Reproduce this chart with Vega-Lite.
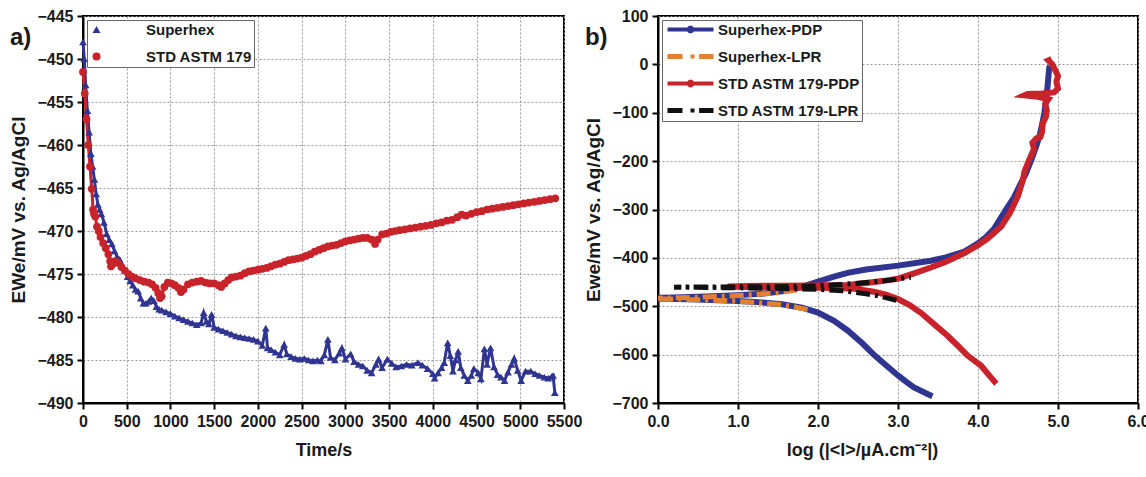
{
"$schema": "https://vega.github.io/schema/vega-lite/v6.json",
"background": "white",
"padding": {"left": 8, "top": 7, "right": 5, "bottom": 3},
"spacing": 0,
"resolve": {"scale": {"color": "independent", "shape": "independent"}, "legend": {"color": "independent"}},
"config": {
  "font": "Liberation Sans",
  "view": {"stroke": "black", "strokeWidth": 2},
  "axis": {"labelFont": "Liberation Sans", "labelFontWeight": "bold", "labelFontSize": 16, "labelColor": "#1a1a1a", "titleFont": "Liberation Sans", "titleFontWeight": "bold", "titleFontSize": 18, "titleColor": "#1a1a1a", "domainColor": "black", "domainWidth": 2, "tickColor": "black", "tickWidth": 2, "tickSize": 6, "labelPadding": 4, "gridColor": "#999999", "gridDash": [2, 2], "gridWidth": 1, "labelFlush": false, "labelOverlap": false},
  "legend": {"labelFont": "Liberation Sans", "labelFontWeight": "bold", "labelColor": "#1a1a1a", "labelLimit": 400}
},
"datasets": {
  "a": [
    {"s":"Superhex","t":0,"E":-448},{"s":"Superhex","t":15,"E":-450},{"s":"Superhex","t":30,"E":-453},{"s":"Superhex","t":50,"E":-456},{"s":"Superhex","t":70,"E":-458.5},{"s":"Superhex","t":90,"E":-461},{"s":"Superhex","t":110,"E":-462.5},{"s":"Superhex","t":130,"E":-464},{"s":"Superhex","t":150,"E":-465.7},{"s":"Superhex","t":170,"E":-466.9},{"s":"Superhex","t":190,"E":-467.5},{"s":"Superhex","t":210,"E":-468},{"s":"Superhex","t":240,"E":-469},{"s":"Superhex","t":270,"E":-470.3},{"s":"Superhex","t":300,"E":-471},{"s":"Superhex","t":330,"E":-471.5},{"s":"Superhex","t":360,"E":-472.3},{"s":"Superhex","t":390,"E":-473},{"s":"Superhex","t":420,"E":-473.3},{"s":"Superhex","t":450,"E":-474},{"s":"Superhex","t":480,"E":-474.6},{"s":"Superhex","t":510,"E":-475.3},{"s":"Superhex","t":540,"E":-475.8},{"s":"Superhex","t":570,"E":-476.3},{"s":"Superhex","t":600,"E":-476.8},{"s":"Superhex","t":630,"E":-477},{"s":"Superhex","t":660,"E":-477.8},{"s":"Superhex","t":690,"E":-478.4},{"s":"Superhex","t":720,"E":-478.4},{"s":"Superhex","t":750,"E":-478.2},{"s":"Superhex","t":780,"E":-477.8},{"s":"Superhex","t":810,"E":-478.1},{"s":"Superhex","t":840,"E":-478.8},{"s":"Superhex","t":870,"E":-479.1},{"s":"Superhex","t":900,"E":-479.2},{"s":"Superhex","t":950,"E":-479.4},{"s":"Superhex","t":1000,"E":-479.6},{"s":"Superhex","t":1050,"E":-479.9},{"s":"Superhex","t":1100,"E":-480.1},{"s":"Superhex","t":1150,"E":-480.3},{"s":"Superhex","t":1200,"E":-480.5},{"s":"Superhex","t":1250,"E":-480.7},{"s":"Superhex","t":1300,"E":-480.9},{"s":"Superhex","t":1350,"E":-480.7},{"s":"Superhex","t":1380,"E":-479.5},{"s":"Superhex","t":1410,"E":-480.5},{"s":"Superhex","t":1440,"E":-480.8},{"s":"Superhex","t":1470,"E":-479.7},{"s":"Superhex","t":1500,"E":-481.2},{"s":"Superhex","t":1550,"E":-481.4},{"s":"Superhex","t":1600,"E":-481.6},{"s":"Superhex","t":1650,"E":-481.8},{"s":"Superhex","t":1700,"E":-482},{"s":"Superhex","t":1750,"E":-482.2},{"s":"Superhex","t":1800,"E":-482.3},{"s":"Superhex","t":1850,"E":-482.4},{"s":"Superhex","t":1900,"E":-482.5},{"s":"Superhex","t":1950,"E":-482.6},{"s":"Superhex","t":2000,"E":-482.8},{"s":"Superhex","t":2050,"E":-483.3},{"s":"Superhex","t":2090,"E":-481.3},{"s":"Superhex","t":2110,"E":-483.6},{"s":"Superhex","t":2150,"E":-483.8},{"s":"Superhex","t":2200,"E":-484.1},{"s":"Superhex","t":2250,"E":-484.4},{"s":"Superhex","t":2300,"E":-483.2},{"s":"Superhex","t":2330,"E":-484.3},{"s":"Superhex","t":2380,"E":-484.6},{"s":"Superhex","t":2430,"E":-484.8},{"s":"Superhex","t":2480,"E":-484.9},{"s":"Superhex","t":2530,"E":-484.8},{"s":"Superhex","t":2580,"E":-485},{"s":"Superhex","t":2630,"E":-485.1},{"s":"Superhex","t":2680,"E":-485},{"s":"Superhex","t":2720,"E":-485.1},{"s":"Superhex","t":2760,"E":-484.4},{"s":"Superhex","t":2800,"E":-482.6},{"s":"Superhex","t":2830,"E":-484.7},{"s":"Superhex","t":2880,"E":-485},{"s":"Superhex","t":2930,"E":-484.2},{"s":"Superhex","t":2960,"E":-483.6},{"s":"Superhex","t":3000,"E":-484.9},{"s":"Superhex","t":3060,"E":-484.3},{"s":"Superhex","t":3100,"E":-485.2},{"s":"Superhex","t":3150,"E":-485.5},{"s":"Superhex","t":3200,"E":-485.7},{"s":"Superhex","t":3250,"E":-486.2},{"s":"Superhex","t":3300,"E":-486.5},{"s":"Superhex","t":3350,"E":-485.5},{"s":"Superhex","t":3380,"E":-484.9},{"s":"Superhex","t":3420,"E":-485.9},{"s":"Superhex","t":3480,"E":-484.9},{"s":"Superhex","t":3530,"E":-485.4},{"s":"Superhex","t":3580,"E":-485.8},{"s":"Superhex","t":3640,"E":-485.7},{"s":"Superhex","t":3700,"E":-485.5},{"s":"Superhex","t":3760,"E":-485.6},{"s":"Superhex","t":3830,"E":-485.3},{"s":"Superhex","t":3880,"E":-485.6},{"s":"Superhex","t":3940,"E":-486},{"s":"Superhex","t":4000,"E":-486.6},{"s":"Superhex","t":4020,"E":-487.1},{"s":"Superhex","t":4060,"E":-486.5},{"s":"Superhex","t":4100,"E":-485.9},{"s":"Superhex","t":4130,"E":-485.3},{"s":"Superhex","t":4170,"E":-483},{"s":"Superhex","t":4200,"E":-484.5},{"s":"Superhex","t":4230,"E":-486.3},{"s":"Superhex","t":4260,"E":-485},{"s":"Superhex","t":4290,"E":-484},{"s":"Superhex","t":4320,"E":-485.9},{"s":"Superhex","t":4360,"E":-486.8},{"s":"Superhex","t":4400,"E":-487.4},{"s":"Superhex","t":4440,"E":-486.8},{"s":"Superhex","t":4470,"E":-486},{"s":"Superhex","t":4520,"E":-486.5},{"s":"Superhex","t":4550,"E":-487.2},{"s":"Superhex","t":4590,"E":-483.7},{"s":"Superhex","t":4620,"E":-485.5},{"s":"Superhex","t":4660,"E":-483.6},{"s":"Superhex","t":4700,"E":-485.8},{"s":"Superhex","t":4740,"E":-486.7},{"s":"Superhex","t":4780,"E":-487},{"s":"Superhex","t":4820,"E":-487.4},{"s":"Superhex","t":4860,"E":-486.4},{"s":"Superhex","t":4900,"E":-485.5},{"s":"Superhex","t":4930,"E":-484.8},{"s":"Superhex","t":4970,"E":-486.2},{"s":"Superhex","t":5010,"E":-487.4},{"s":"Superhex","t":5060,"E":-486.3},{"s":"Superhex","t":5120,"E":-486.3},{"s":"Superhex","t":5170,"E":-486.6},{"s":"Superhex","t":5220,"E":-486.8},{"s":"Superhex","t":5275,"E":-487},{"s":"Superhex","t":5320,"E":-487.1},{"s":"Superhex","t":5360,"E":-486.9},{"s":"Superhex","t":5375,"E":-486.8},{"s":"Superhex","t":5395,"E":-488.8},
    {"s":"STD ASTM 179","t":0,"E":-451.5},{"s":"STD ASTM 179","t":20,"E":-454},{"s":"STD ASTM 179","t":40,"E":-457},{"s":"STD ASTM 179","t":60,"E":-460},{"s":"STD ASTM 179","t":80,"E":-462.5},{"s":"STD ASTM 179","t":100,"E":-465.1},{"s":"STD ASTM 179","t":115,"E":-467.5},{"s":"STD ASTM 179","t":125,"E":-468},{"s":"STD ASTM 179","t":140,"E":-468.3},{"s":"STD ASTM 179","t":160,"E":-469.5},{"s":"STD ASTM 179","t":180,"E":-470},{"s":"STD ASTM 179","t":200,"E":-470.7},{"s":"STD ASTM 179","t":230,"E":-471.4},{"s":"STD ASTM 179","t":260,"E":-472},{"s":"STD ASTM 179","t":290,"E":-472.7},{"s":"STD ASTM 179","t":310,"E":-473.5},{"s":"STD ASTM 179","t":320,"E":-474.1},{"s":"STD ASTM 179","t":340,"E":-473.8},{"s":"STD ASTM 179","t":370,"E":-473.5},{"s":"STD ASTM 179","t":400,"E":-473.7},{"s":"STD ASTM 179","t":440,"E":-474.2},{"s":"STD ASTM 179","t":480,"E":-474.6},{"s":"STD ASTM 179","t":520,"E":-475},{"s":"STD ASTM 179","t":560,"E":-475.3},{"s":"STD ASTM 179","t":600,"E":-475.5},{"s":"STD ASTM 179","t":650,"E":-475.7},{"s":"STD ASTM 179","t":700,"E":-475.9},{"s":"STD ASTM 179","t":750,"E":-476},{"s":"STD ASTM 179","t":790,"E":-476.2},{"s":"STD ASTM 179","t":830,"E":-476.6},{"s":"STD ASTM 179","t":860,"E":-477.2},{"s":"STD ASTM 179","t":880,"E":-477.8},{"s":"STD ASTM 179","t":900,"E":-477.6},{"s":"STD ASTM 179","t":930,"E":-476.5},{"s":"STD ASTM 179","t":970,"E":-476},{"s":"STD ASTM 179","t":1010,"E":-476.1},{"s":"STD ASTM 179","t":1050,"E":-476.3},{"s":"STD ASTM 179","t":1090,"E":-476.6},{"s":"STD ASTM 179","t":1120,"E":-477.1},{"s":"STD ASTM 179","t":1150,"E":-476.8},{"s":"STD ASTM 179","t":1200,"E":-476.2},{"s":"STD ASTM 179","t":1250,"E":-476},{"s":"STD ASTM 179","t":1300,"E":-475.9},{"s":"STD ASTM 179","t":1350,"E":-475.8},{"s":"STD ASTM 179","t":1400,"E":-476},{"s":"STD ASTM 179","t":1450,"E":-476.1},{"s":"STD ASTM 179","t":1500,"E":-476.1},{"s":"STD ASTM 179","t":1550,"E":-476.3},{"s":"STD ASTM 179","t":1580,"E":-476.5},{"s":"STD ASTM 179","t":1620,"E":-476.1},{"s":"STD ASTM 179","t":1660,"E":-475.7},{"s":"STD ASTM 179","t":1700,"E":-475.4},{"s":"STD ASTM 179","t":1750,"E":-475.3},{"s":"STD ASTM 179","t":1800,"E":-475.2},{"s":"STD ASTM 179","t":1850,"E":-474.9},{"s":"STD ASTM 179","t":1900,"E":-474.7},{"s":"STD ASTM 179","t":1950,"E":-474.6},{"s":"STD ASTM 179","t":2000,"E":-474.5},{"s":"STD ASTM 179","t":2050,"E":-474.4},{"s":"STD ASTM 179","t":2100,"E":-474.3},{"s":"STD ASTM 179","t":2150,"E":-474.1},{"s":"STD ASTM 179","t":2200,"E":-473.9},{"s":"STD ASTM 179","t":2250,"E":-473.8},{"s":"STD ASTM 179","t":2300,"E":-473.6},{"s":"STD ASTM 179","t":2350,"E":-473.4},{"s":"STD ASTM 179","t":2400,"E":-473.3},{"s":"STD ASTM 179","t":2450,"E":-473.2},{"s":"STD ASTM 179","t":2500,"E":-473.1},{"s":"STD ASTM 179","t":2550,"E":-472.9},{"s":"STD ASTM 179","t":2600,"E":-472.7},{"s":"STD ASTM 179","t":2650,"E":-472.4},{"s":"STD ASTM 179","t":2700,"E":-472.2},{"s":"STD ASTM 179","t":2750,"E":-472},{"s":"STD ASTM 179","t":2800,"E":-471.8},{"s":"STD ASTM 179","t":2850,"E":-471.7},{"s":"STD ASTM 179","t":2900,"E":-471.6},{"s":"STD ASTM 179","t":2950,"E":-471.4},{"s":"STD ASTM 179","t":3000,"E":-471.2},{"s":"STD ASTM 179","t":3050,"E":-471.1},{"s":"STD ASTM 179","t":3100,"E":-471},{"s":"STD ASTM 179","t":3150,"E":-470.9},{"s":"STD ASTM 179","t":3200,"E":-470.8},{"s":"STD ASTM 179","t":3250,"E":-470.8},{"s":"STD ASTM 179","t":3300,"E":-471},{"s":"STD ASTM 179","t":3340,"E":-471.5},{"s":"STD ASTM 179","t":3370,"E":-471},{"s":"STD ASTM 179","t":3420,"E":-470.4},{"s":"STD ASTM 179","t":3470,"E":-470.3},{"s":"STD ASTM 179","t":3520,"E":-470.1},{"s":"STD ASTM 179","t":3570,"E":-470},{"s":"STD ASTM 179","t":3620,"E":-469.9},{"s":"STD ASTM 179","t":3680,"E":-469.8},{"s":"STD ASTM 179","t":3740,"E":-469.7},{"s":"STD ASTM 179","t":3800,"E":-469.6},{"s":"STD ASTM 179","t":3860,"E":-469.5},{"s":"STD ASTM 179","t":3920,"E":-469.4},{"s":"STD ASTM 179","t":3980,"E":-469.3},{"s":"STD ASTM 179","t":4040,"E":-469.1},{"s":"STD ASTM 179","t":4100,"E":-469},{"s":"STD ASTM 179","t":4160,"E":-468.8},{"s":"STD ASTM 179","t":4220,"E":-468.7},{"s":"STD ASTM 179","t":4280,"E":-468.4},{"s":"STD ASTM 179","t":4330,"E":-468.1},{"s":"STD ASTM 179","t":4380,"E":-468.2},{"s":"STD ASTM 179","t":4440,"E":-468},{"s":"STD ASTM 179","t":4500,"E":-467.8},{"s":"STD ASTM 179","t":4560,"E":-467.7},{"s":"STD ASTM 179","t":4620,"E":-467.5},{"s":"STD ASTM 179","t":4680,"E":-467.4},{"s":"STD ASTM 179","t":4740,"E":-467.3},{"s":"STD ASTM 179","t":4800,"E":-467.2},{"s":"STD ASTM 179","t":4860,"E":-467.1},{"s":"STD ASTM 179","t":4920,"E":-467},{"s":"STD ASTM 179","t":4980,"E":-466.9},{"s":"STD ASTM 179","t":5040,"E":-466.8},{"s":"STD ASTM 179","t":5100,"E":-466.7},{"s":"STD ASTM 179","t":5160,"E":-466.6},{"s":"STD ASTM 179","t":5220,"E":-466.5},{"s":"STD ASTM 179","t":5280,"E":-466.4},{"s":"STD ASTM 179","t":5340,"E":-466.3},{"s":"STD ASTM 179","t":5400,"E":-466.2}
  ],
  "b": [
    {"s":"Superhex-PDP","L":3.43,"E":-686},{"s":"Superhex-PDP","L":3.35,"E":-680},{"s":"Superhex-PDP","L":3.2,"E":-668},{"s":"Superhex-PDP","L":3.1,"E":-656},{"s":"Superhex-PDP","L":3.0,"E":-643},{"s":"Superhex-PDP","L":2.85,"E":-622},{"s":"Superhex-PDP","L":2.71,"E":-602},{"s":"Superhex-PDP","L":2.55,"E":-576},{"s":"Superhex-PDP","L":2.37,"E":-550},{"s":"Superhex-PDP","L":2.2,"E":-530},{"s":"Superhex-PDP","L":2.0,"E":-513},{"s":"Superhex-PDP","L":1.8,"E":-503},{"s":"Superhex-PDP","L":1.55,"E":-496},{"s":"Superhex-PDP","L":1.3,"E":-492},{"s":"Superhex-PDP","L":1.0,"E":-489},{"s":"Superhex-PDP","L":0.5,"E":-486},{"s":"Superhex-PDP","L":0.1,"E":-484.5},{"s":"Superhex-PDP","L":-0.3,"E":-483.5},{"s":"Superhex-PDP","L":0.2,"E":-482},{"s":"Superhex-PDP","L":0.6,"E":-480},{"s":"Superhex-PDP","L":1.0,"E":-477},{"s":"Superhex-PDP","L":1.3,"E":-474},{"s":"Superhex-PDP","L":1.55,"E":-469},{"s":"Superhex-PDP","L":1.8,"E":-460},{"s":"Superhex-PDP","L":2.0,"E":-449},{"s":"Superhex-PDP","L":2.2,"E":-439},{"s":"Superhex-PDP","L":2.37,"E":-431},{"s":"Superhex-PDP","L":2.6,"E":-424},{"s":"Superhex-PDP","L":3.0,"E":-416},{"s":"Superhex-PDP","L":3.41,"E":-406},{"s":"Superhex-PDP","L":3.6,"E":-399},{"s":"Superhex-PDP","L":3.83,"E":-387},{"s":"Superhex-PDP","L":4.0,"E":-370},{"s":"Superhex-PDP","L":4.1,"E":-357},{"s":"Superhex-PDP","L":4.2,"E":-340},{"s":"Superhex-PDP","L":4.35,"E":-300},{"s":"Superhex-PDP","L":4.45,"E":-275},{"s":"Superhex-PDP","L":4.52,"E":-251},{"s":"Superhex-PDP","L":4.6,"E":-225},{"s":"Superhex-PDP","L":4.66,"E":-200},{"s":"Superhex-PDP","L":4.72,"E":-173},{"s":"Superhex-PDP","L":4.77,"E":-148},{"s":"Superhex-PDP","L":4.8,"E":-125},{"s":"Superhex-PDP","L":4.83,"E":-100},{"s":"Superhex-PDP","L":4.85,"E":-75},{"s":"Superhex-PDP","L":4.87,"E":-45},{"s":"Superhex-PDP","L":4.88,"E":-25},{"s":"Superhex-PDP","L":4.89,"E":-7},{"s":"Superhex-PDP","L":4.9,"E":-3},
    {"s":"Superhex-LPR","L":1.87,"E":-507},{"s":"Superhex-LPR","L":1.7,"E":-501},{"s":"Superhex-LPR","L":1.5,"E":-496},{"s":"Superhex-LPR","L":1.2,"E":-492},{"s":"Superhex-LPR","L":0.9,"E":-489},{"s":"Superhex-LPR","L":0.5,"E":-486.5},{"s":"Superhex-LPR","L":0.1,"E":-485},{"s":"Superhex-LPR","L":-0.3,"E":-484},{"s":"Superhex-LPR","L":0.1,"E":-483},{"s":"Superhex-LPR","L":0.5,"E":-481.5},{"s":"Superhex-LPR","L":0.9,"E":-479},{"s":"Superhex-LPR","L":1.2,"E":-476},{"s":"Superhex-LPR","L":1.5,"E":-472},{"s":"Superhex-LPR","L":1.7,"E":-467},{"s":"Superhex-LPR","L":1.9,"E":-461},
    {"s":"STD ASTM 179-PDP","L":4.23,"E":-660},{"s":"STD ASTM 179-PDP","L":4.15,"E":-645},{"s":"STD ASTM 179-PDP","L":4.04,"E":-623},{"s":"STD ASTM 179-PDP","L":3.95,"E":-612},{"s":"STD ASTM 179-PDP","L":3.87,"E":-602},{"s":"STD ASTM 179-PDP","L":3.75,"E":-582},{"s":"STD ASTM 179-PDP","L":3.62,"E":-561},{"s":"STD ASTM 179-PDP","L":3.45,"E":-537},{"s":"STD ASTM 179-PDP","L":3.29,"E":-514},{"s":"STD ASTM 179-PDP","L":3.15,"E":-498},{"s":"STD ASTM 179-PDP","L":3.0,"E":-485},{"s":"STD ASTM 179-PDP","L":2.85,"E":-476},{"s":"STD ASTM 179-PDP","L":2.7,"E":-470},{"s":"STD ASTM 179-PDP","L":2.45,"E":-464},{"s":"STD ASTM 179-PDP","L":2.2,"E":-462.5},{"s":"STD ASTM 179-PDP","L":2.0,"E":-462},{"s":"STD ASTM 179-PDP","L":1.5,"E":-461},{"s":"STD ASTM 179-PDP","L":1.1,"E":-460},{"s":"STD ASTM 179-PDP","L":0.87,"E":-459},{"s":"STD ASTM 179-PDP","L":1.1,"E":-458},{"s":"STD ASTM 179-PDP","L":1.5,"E":-457.5},{"s":"STD ASTM 179-PDP","L":2.0,"E":-457},{"s":"STD ASTM 179-PDP","L":2.37,"E":-456},{"s":"STD ASTM 179-PDP","L":2.6,"E":-452},{"s":"STD ASTM 179-PDP","L":2.8,"E":-448},{"s":"STD ASTM 179-PDP","L":3.0,"E":-443},{"s":"STD ASTM 179-PDP","L":3.2,"E":-432},{"s":"STD ASTM 179-PDP","L":3.41,"E":-420},{"s":"STD ASTM 179-PDP","L":3.6,"E":-408},{"s":"STD ASTM 179-PDP","L":3.83,"E":-390},{"s":"STD ASTM 179-PDP","L":4.0,"E":-374},{"s":"STD ASTM 179-PDP","L":4.12,"E":-360},{"s":"STD ASTM 179-PDP","L":4.29,"E":-335},{"s":"STD ASTM 179-PDP","L":4.4,"E":-307},{"s":"STD ASTM 179-PDP","L":4.5,"E":-272},{"s":"STD ASTM 179-PDP","L":4.56,"E":-240},{"s":"STD ASTM 179-PDP","L":4.58,"E":-222},{"s":"STD ASTM 179-PDP","L":4.62,"E":-205},{"s":"STD ASTM 179-PDP","L":4.66,"E":-190},{"s":"STD ASTM 179-PDP","L":4.7,"E":-175},{"s":"STD ASTM 179-PDP","L":4.68,"E":-162},{"s":"STD ASTM 179-PDP","L":4.73,"E":-153},{"s":"STD ASTM 179-PDP","L":4.78,"E":-150},{"s":"STD ASTM 179-PDP","L":4.8,"E":-140},{"s":"STD ASTM 179-PDP","L":4.81,"E":-122},{"s":"STD ASTM 179-PDP","L":4.85,"E":-108},{"s":"STD ASTM 179-PDP","L":4.86,"E":-95},{"s":"STD ASTM 179-PDP","L":4.84,"E":-82},{"s":"STD ASTM 179-PDP","L":4.88,"E":-72},{"s":"STD ASTM 179-PDP","L":4.75,"E":-67},{"s":"STD ASTM 179-PDP","L":4.58,"E":-64},{"s":"STD ASTM 179-PDP","L":4.62,"E":-61},{"s":"STD ASTM 179-PDP","L":4.8,"E":-60},{"s":"STD ASTM 179-PDP","L":4.95,"E":-58},{"s":"STD ASTM 179-PDP","L":5.0,"E":-50},{"s":"STD ASTM 179-PDP","L":4.98,"E":-36},{"s":"STD ASTM 179-PDP","L":5.0,"E":-24},{"s":"STD ASTM 179-PDP","L":4.96,"E":-10},{"s":"STD ASTM 179-PDP","L":4.93,"E":0},{"s":"STD ASTM 179-PDP","L":4.88,"E":8},{"s":"STD ASTM 179-PDP","L":4.92,"E":11},
    {"s":"STD ASTM 179-LPR","L":2.98,"E":-488},{"s":"STD ASTM 179-LPR","L":2.8,"E":-480},{"s":"STD ASTM 179-LPR","L":2.6,"E":-474},{"s":"STD ASTM 179-LPR","L":2.3,"E":-468},{"s":"STD ASTM 179-LPR","L":2.0,"E":-465},{"s":"STD ASTM 179-LPR","L":1.5,"E":-463},{"s":"STD ASTM 179-LPR","L":0.8,"E":-461.5},{"s":"STD ASTM 179-LPR","L":0.2,"E":-460.5},{"s":"STD ASTM 179-LPR","L":0.8,"E":-460},{"s":"STD ASTM 179-LPR","L":1.5,"E":-459.5},{"s":"STD ASTM 179-LPR","L":2.0,"E":-458},{"s":"STD ASTM 179-LPR","L":2.3,"E":-455},{"s":"STD ASTM 179-LPR","L":2.6,"E":-451},{"s":"STD ASTM 179-LPR","L":2.9,"E":-446},{"s":"STD ASTM 179-LPR","L":3.16,"E":-440}
  ]
},
"hconcat": [
  {
    "width": 481, "height": 387,
    "title": {"text": "a)", "anchor": "start", "frame": "bounds", "offset": -42, "fontSize": 24, "fontWeight": "bold", "font": "Liberation Sans", "color": "#1a1a1a"},
    "data": {"name": "a"},
    "layer": [
      {
        "mark": {"type": "line", "strokeWidth": 3},
        "encoding": {
          "x": {"field": "t", "type": "quantitative", "scale": {"domain": [0, 5500], "nice": false},
                "axis": {"title": "Time/s", "format": "d", "values": [0,500,1000,1500,2000,2500,3000,3500,4000,4500,5000,5500], "grid": true, "titlePadding": 12}},
          "y": {"field": "E", "type": "quantitative", "scale": {"domain": [-490, -445], "nice": false},
                "axis": {"title": "EWe/mV vs. Ag/AgCl", "titleFontSize": 19, "values": [-490,-485,-480,-475,-470,-465,-460,-455,-450,-445], "grid": true, "titlePadding": 8}},
          "color": {"field": "s", "type": "nominal", "scale": {"domain": ["Superhex", "STD ASTM 179"], "range": ["#2f3590", "#c8232b"]},
                "legend": {"title": null, "orient": "top-left", "offset": 4, "padding": 2, "fillColor": "white", "strokeColor": "#666666", "symbolSize": 64, "labelOffset": 42, "rowPadding": 11, "labelFontSize": 15,
                  "encode": {
                    "symbols": {"update": {
                      "shape": {"signal": "datum.value === 'Superhex' ? 'M-1,-0.5H10.5V0.5H-1Z M4.75,-1.3L6.05,0.95L3.45,0.95Z' : 'M-1,-0.5H10.5V0.5H-1Z M5.905,0.479L5.229,1.155L4.271,1.155L3.595,0.479L3.595,-0.479L4.271,-1.155L5.229,-1.155L5.905,-0.479Z'"},
                      "fill": {"signal": "datum.value === 'Superhex' ? '#2f3590' : '#c8232b'"},
                      "stroke": {"value": "transparent"}, "strokeWidth": {"value": 0}, "opacity": {"value": 1}}}
                  }}}
        }
      },
      {
        "mark": {"type": "point", "filled": true, "opacity": 1, "size": 60},
        "encoding": {
          "x": {"field": "t", "type": "quantitative"},
          "y": {"field": "E", "type": "quantitative"},
          "color": {"field": "s", "type": "nominal"},
          "shape": {"field": "s", "type": "nominal", "scale": {"domain": ["Superhex", "STD ASTM 179"], "range": ["triangle-up", "circle"]}, "legend": null}
        }
      }
    ]
  },
  {
    "width": 480, "height": 387,
    "title": {"text": "b)", "anchor": "start", "frame": "bounds", "offset": -42, "fontSize": 24, "fontWeight": "bold", "font": "Liberation Sans", "color": "#1a1a1a"},
    "data": {"name": "b"},
    "layer": [
      {
        "transform": [{"filter": "datum.s === 'Superhex-PDP'"}],
        "mark": {"type": "line", "strokeWidth": 6, "clip": true},
        "encoding": {
          "x": {"field": "L", "type": "quantitative", "scale": {"domain": [0, 6], "nice": false},
                "axis": {"title": "log (|<I>/µA.cm⁻²|)", "values": [0,1,2,3,4,5,6], "grid": true, "titlePadding": 12, "titleX": 204}},
          "y": {"field": "E", "type": "quantitative", "scale": {"domain": [-700, 100], "nice": false},
                "axis": {"title": "Ewe/mV vs. Ag/AgCl", "titleFontSize": 19, "values": [-700,-600,-500,-400,-300,-200,-100,0,100], "grid": true, "titlePadding": 8}},
          "order": {"field": "E"},
          "color": {"field": "s", "type": "nominal", "scale": {"domain": ["Superhex-PDP", "Superhex-LPR", "STD ASTM 179-PDP", "STD ASTM 179-LPR"], "range": ["#2f3590", "#e08030", "#c8232b", "#111111"]},
                "legend": {"title": null, "orient": "top-left", "offset": 4, "padding": 2, "fillColor": "white", "strokeColor": "#666666", "symbolSize": 64, "labelOffset": 39, "rowPadding": 11, "labelFontSize": 15,
                  "encode": {
                    "symbols": {"update": {
                      "shape": {"signal": "datum.value === 'Superhex-PDP' || datum.value === 'STD ASTM 179-PDP' ? 'M-1,-0.5H10.5V0.5H-1Z M5.67,0.38L5.13,0.92L4.37,0.92L3.83,0.38L3.83,-0.38L4.37,-0.92L5.13,-0.92L5.67,-0.38Z' : 'M-1,-0.6H2.75V0.6H-1Z M4.75,-0.5H5.75V0.5H4.75Z M6.9,-0.6H10.5V0.6H6.9Z'"},
                      "fill": {"signal": "datum.value === 'Superhex-PDP' ? '#2f3590' : datum.value === 'Superhex-LPR' ? '#e08030' : datum.value === 'STD ASTM 179-PDP' ? '#c8232b' : '#111111'"},
                      "stroke": {"value": "transparent"}, "strokeWidth": {"value": 0}, "opacity": {"value": 1}}}
                  }}}
        }
      },
      {
        "transform": [{"filter": "datum.s === 'Superhex-LPR'"}],
        "mark": {"type": "line", "strokeWidth": 5, "strokeDash": [14, 5, 3, 5], "clip": true},
        "encoding": {
          "x": {"field": "L", "type": "quantitative"},
          "y": {"field": "E", "type": "quantitative"},
          "order": {"field": "E"},
          "color": {"field": "s", "type": "nominal"}
        }
      },
      {
        "transform": [{"filter": "datum.s === 'STD ASTM 179-PDP'"}],
        "mark": {"type": "line", "strokeWidth": 6, "clip": true},
        "encoding": {
          "x": {"field": "L", "type": "quantitative"},
          "y": {"field": "E", "type": "quantitative"},
          "order": {"field": "E"},
          "color": {"field": "s", "type": "nominal"}
        }
      },
      {
        "transform": [{"filter": "datum.s === 'STD ASTM 179-LPR'"}],
        "mark": {"type": "line", "strokeWidth": 5, "strokeDash": [14, 5, 3, 5], "clip": true},
        "encoding": {
          "x": {"field": "L", "type": "quantitative"},
          "y": {"field": "E", "type": "quantitative"},
          "order": {"field": "E"},
          "color": {"field": "s", "type": "nominal"}
        }
      }
    ]
  }
]
}
